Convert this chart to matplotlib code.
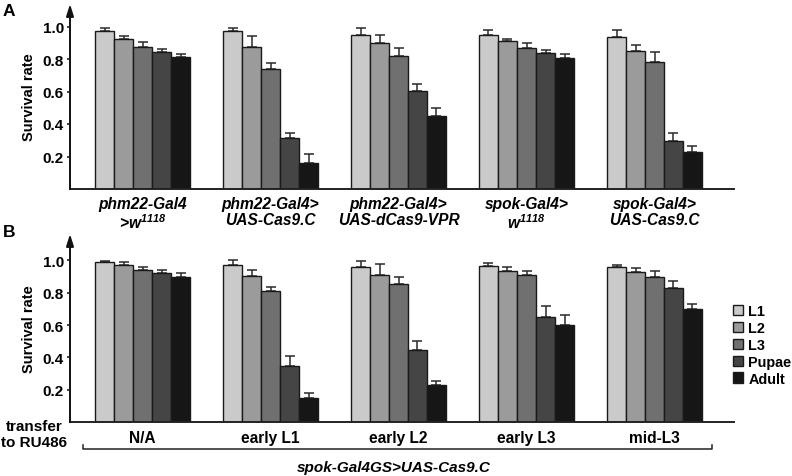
import numpy as np
import matplotlib
matplotlib.use("Agg")
import matplotlib.pyplot as plt
from matplotlib.lines import Line2D
from matplotlib.patches import Patch

plt.rcParams['font.family'] = ['Liberation Sans', 'DejaVu Sans']
plt.rcParams['font.weight'] = 'bold'
plt.rcParams['mathtext.fontset'] = 'custom'
plt.rcParams['mathtext.it'] = 'Liberation Sans:italic:bold'
plt.rcParams['mathtext.rm'] = 'Liberation Sans:italic:bold'

stages = ["L1", "L2", "L3", "Pupae", "Adult"]
colors = ["#cacaca", "#9b9b9b", "#707070", "#454545", "#161616"]

# panel A
genotypes = ["phm22-Gal4\n>$w^{1118}$", "phm22-Gal4>\nUAS-Cas9.C", "phm22-Gal4>\nUAS-dCas9-VPR",
             "spok-Gal4>\n$w^{1118}$", "spok-Gal4>\nUAS-Cas9.C"]
a_mean = [
    [0.97, 0.923, 0.876, 0.845, 0.814],
    [0.97, 0.876, 0.737, 0.316, 0.162],
    [0.95, 0.90, 0.82, 0.603, 0.451],
    [0.946, 0.911, 0.87, 0.839, 0.806],
    [0.937, 0.849, 0.783, 0.293, 0.228],
]
a_top = [
    [0.99, 0.94, 0.906, 0.863, 0.829],
    [0.99, 0.94, 0.775, 0.346, 0.215],
    [0.988, 0.95, 0.868, 0.646, 0.50],
    [0.978, 0.925, 0.90, 0.853, 0.831],
    [0.98, 0.884, 0.843, 0.345, 0.262],
]

# panel B
transfer = ["N/A", "early L1", "early L2", "early L3", "mid-L3"]
b_mean = [
    [0.991, 0.970, 0.940, 0.923, 0.894],
    [0.970, 0.904, 0.808, 0.349, 0.149],
    [0.960, 0.910, 0.855, 0.446, 0.231],
    [0.964, 0.931, 0.909, 0.649, 0.602],
    [0.960, 0.929, 0.898, 0.830, 0.697],
]
b_top = [
    [0.997, 0.987, 0.956, 0.940, 0.919],
    [1.003, 0.940, 0.833, 0.409, 0.180],
    [0.995, 0.978, 0.894, 0.499, 0.252],
    [0.981, 0.958, 0.933, 0.717, 0.662],
    [0.972, 0.950, 0.933, 0.873, 0.731],
]

W, H = 792, 477
fig = plt.figure(figsize=(W / 100, H / 100), dpi=100)


def px(x, y):
    return x / W, 1 - y / H


def draw_panel(ax, means, tops, ymax):
    means = np.array(means)
    tops = np.array(tops)
    bw = 19 / 128
    x = np.arange(len(means))
    for j in range(5):
        xs = x + (j - 2) * bw
        err = tops[:, j] - means[:, j]
        ax.bar(xs, means[:, j], width=bw, color=colors[j], edgecolor="#1a1a1a",
               linewidth=1.0, zorder=2)
        ax.errorbar(xs, means[:, j], yerr=[np.zeros_like(err), err], fmt="none",
                    ecolor="#2a2a2a", elinewidth=1.1, capsize=3.6, capthick=1.1, zorder=1)
    ax.set_xlim(-72.5 / 128, 591.5 / 128)
    ax.set_ylim(0, ymax)
    ax.set_yticks([0.2, 0.4, 0.6, 0.8, 1.0])
    ax.set_yticklabels(["0.2", "0.4", "0.6", "0.8", "1.0"], fontsize=11, fontweight="bold")
    ax.tick_params(axis="y", length=2.5, width=1.2, color="#222222", pad=2)
    ax.set_xticks([])
    for s in ["top", "right", "left"]:
        ax.spines[s].set_visible(False)
    ax.spines["bottom"].set_linewidth(1.4)
    ax.spines["bottom"].set_color("#222222")
    ax.annotate("", xy=(0, 1.0), xytext=(0, 0), xycoords="axes fraction",
                arrowprops=dict(arrowstyle="-|>,head_length=0.7,head_width=0.22",
                                lw=1.4, color="#111111", shrinkA=0, shrinkB=0))
    ax.set_ylabel("Survival rate", fontsize=10.5, fontweight="bold", labelpad=5)


# axes A: left 70px, right 734px, baseline 190px, top 5px
l, b = px(70, 190)
ax_a = fig.add_axes([l, b, 664 / W, 185 / H])
draw_panel(ax_a, a_mean, a_top, 185 / 162.5)
for i, g in enumerate(genotypes):
    ax_a.text(i, -0.04, g, transform=ax_a.get_xaxis_transform(), ha="center", va="top",
              fontsize=11.2, fontweight="bold", fontstyle="italic", linespacing=1.05)

# axes B: baseline 423px, top 235px
l, b = px(70, 423.2)
ax_b = fig.add_axes([l, b, 664 / W, 188.2 / H])
draw_panel(ax_b, b_mean, b_top, 188.2 / 162)
for i, t in enumerate(transfer):
    ax_b.text(i, -0.08, t, transform=ax_b.get_xaxis_transform(), ha="center", va="center",
              fontsize=11.2, fontweight="bold")

fig.text(*px(34, 435), "transfer\nto RU486", ha="center", va="center", fontsize=11,
         fontweight="bold", linespacing=1.1)

# bracket
x0, yb = px(83, 450)
x1, _ = px(712, 450)
_, yt = px(0, 446)
fig.add_artist(Line2D([x0, x0, x1, x1], [yt, yb, yb, yt], color="#222222", lw=1.1))
fig.text(*px(394, 468), "spok-Gal4GS>UAS-Cas9.C", ha="center", va="center", fontsize=11,
         fontweight="bold", fontstyle="italic")

fig.text(*px(9, 12), "A", ha="center", va="center", fontsize=12.5, fontweight="bold")
fig.text(*px(9, 233), "B", ha="center", va="center", fontsize=12.5, fontweight="bold")

handles = [Patch(facecolor=c, edgecolor="#1a1a1a", linewidth=1.0) for c in colors]
fig.legend(handles, stages, loc="upper left", bbox_to_anchor=px(733, 305), frameon=False,
           fontsize=10.4, handlelength=0.7, handleheight=0.7, handletextpad=0.35,
           labelspacing=0.2, borderpad=0, borderaxespad=0)

fig.savefig("out.png", dpi=100)
